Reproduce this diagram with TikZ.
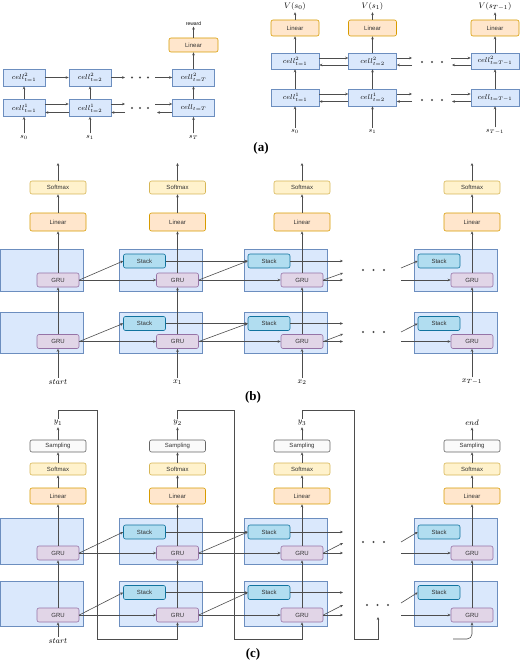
\documentclass[tikz,border=0pt]{standalone}
\usepackage{fontspec}
\setmainfont{Liberation Serif}
\newfontfamily\boxfont{Liberation Sans}
\usetikzlibrary{arrows.meta}

\begin{document}
\begin{tikzpicture}[x=1pt,y=1pt,yscale=-1,xscale=1,
  arr/.style={draw={rgb, 255:red, 77; green, 77; blue, 77 }, line width=0.6, -{Stealth[length=3pt,width=2.6pt]}},
  wire/.style={draw={rgb, 255:red, 77; green, 77; blue, 77 }, line width=0.6},
  dotfill/.style={fill={rgb, 255:red, 77; green, 77; blue, 77 }},
  cell/.style={draw={rgb, 255:red, 108; green, 142; blue, 191 }, fill={rgb, 255:red, 218; green, 232; blue, 252 }, line width=0.6, inner sep=0pt, minimum width=42, minimum height=17, font=\fontsize{7}{8}\selectfont},
  cellr/.style={cell, minimum width=48, minimum height=16, font=\fontsize{7.5}{9}\selectfont},
  hold/.style={cell, minimum width=83, minimum height=42},
  blk/.style={rounded corners=2pt, line width=0.6, inner sep=0pt, minimum width=56, text={rgb, 255:red, 51; green, 51; blue, 51 }, font=\boxfont\fontsize{6}{7}\selectfont},
  lnr/.style={blk, draw={rgb, 255:red, 215; green, 155; blue, 0 }, fill={rgb, 255:red, 255; green, 230; blue, 204 }, minimum height=18},
  smx/.style={blk, draw={rgb, 255:red, 214; green, 182; blue, 86 }, fill={rgb, 255:red, 255; green, 242; blue, 204 }, minimum height=13},
  smp/.style={blk, draw={rgb, 255:red, 102; green, 102; blue, 102 }, fill={rgb, 255:red, 250; green, 250; blue, 250 }, minimum height=12},
  stk/.style={blk, draw={rgb, 255:red, 16; green, 115; blue, 158 }, fill={rgb, 255:red, 177; green, 221; blue, 240 }, minimum width=42, minimum height=14},
  gru/.style={blk, draw={rgb, 255:red, 150; green, 115; blue, 166 }, fill={rgb, 255:red, 225; green, 213; blue, 231 }, minimum width=42, minimum height=14},
  lbl/.style={inner sep=1.5pt, font=\fontsize{8.5}{10}\selectfont},
  lbls/.style={inner sep=1.5pt, font=\fontsize{7}{8}\selectfont},
  part/.style={inner sep=0pt, font=\fontsize{13}{15}\selectfont\bfseries}
]
\useasboundingbox (0,0) rectangle (520,660);

%%%%%%%% (a) left
% Text Node
\node[cell] (la2) at (24,77.5) {$cell^2_{t=1}$};
\node[cell] (lb2) at (90,77.5) {$cell^2_{t=2}$};
\node[cell] (lc2) at (193.5,77.5) {$cell^2_{t=T}$};
\node[cell] (la1) at (24,108) {$cell^1_{t=1}$};
\node[cell] (lb1) at (90,108) {$cell^1_{t=2}$};
\node[cell] (lc1) at (193.5,108) {$cell_{t=T}$};
\node[lnr, minimum width=49, minimum height=14] (llin) at (193.5,45) {Linear};
\node[inner sep=1pt, font=\boxfont\fontsize{5}{6}\selectfont] (lrew) at (193.5,23.5) {reward};
\node[lbls] (ls0) at (24,137) {$s_0$};
\node[lbls] (ls1) at (90,137) {$s_1$};
\node[lbls] (lsT) at (193.5,137) {$s_T$};
\coordinate (le1) at (125,77.5);
\coordinate (le2) at (155,77.5);
\coordinate (lf1) at (125,104);
\coordinate (lf2) at (125,112.5);
\coordinate (lg1) at (155,104);
\coordinate (lg2) at (157,112.5);

%Straight Lines
\draw[arr] (ls0) -- (la1);
\draw[arr] (ls1) -- (lb1);
\draw[arr] (lsT) -- (lc1);
\draw[arr] (la1) -- (la2);
\draw[arr] (lb1) -- (lb2);
\draw[arr] (lc1) -- (lc2);
\draw[arr] (lc2) -- (llin);
\draw[arr] (llin) -- (lrew);
\draw[arr] (la2) -- (lb2);
\draw[arr] (lb2) -- (le1);
\draw[arr] (le2) -- (lc2);
\draw[arr] ([yshift=-4pt]la1.east) -- ([yshift=-4pt]lb1.west);
\draw[arr] ([yshift=4.5pt]lb1.west) -- ([yshift=4.5pt]la1.east);
\draw[arr] ([yshift=-4pt]lb1.east) -- (lf1);
\draw[arr] (lf2) -- ([yshift=4.5pt]lb1.east);
\draw[arr] (lg1) -- ([yshift=-4pt]lc1.west);
\draw[arr] ([yshift=4.5pt]lc1.west) -- (lg2);
\fill[dotfill] (132,77.5) circle (1.1) (140,77.5) circle (1.1) (148,77.5) circle (1.1);
\fill[dotfill] (132,108) circle (1.1) (140,108) circle (1.1) (148,108) circle (1.1);

%%%%%%%% (a) right
% Text Node
\node[cellr] (ra2) at (295,61) {$cell^2_{t=1}$};
\node[cellr] (rb2) at (372.5,61) {$cell^2_{t=2}$};
\node[cellr] (rc2) at (495,61) {$cell^2_{t=T-1}$};
\node[cellr, minimum height=17] (ra1) at (295,97.5) {$cell^1_{t=1}$};
\node[cellr, minimum height=17] (rb1) at (372.5,97.5) {$cell^1_{t=2}$};
\node[cellr, minimum height=17] (rc1) at (495,97.5) {$cell_{t=T-1}$};
\node[lnr, minimum width=48, minimum height=16] (rla) at (295,28) {Linear};
\node[lnr, minimum width=48, minimum height=16] (rlb) at (372.5,28) {Linear};
\node[lnr, minimum width=48, minimum height=16] (rlc) at (495,28) {Linear};
\node[lbl] (rva) at (295,6.5) {$V(s_0)$};
\node[lbl] (rvb) at (372.5,6.5) {$V(s_1)$};
\node[lbl] (rvc) at (495,6.5) {$V(s_{T-1})$};
\node[lbls] (rsa) at (295,131.5) {$s_0$};
\node[lbls] (rsb) at (372.5,131.5) {$s_1$};
\node[lbls] (rsc) at (495,131.5) {$s_{T-1}$};
\coordinate (re1) at (412,58);
\coordinate (re2) at (412,65);
\coordinate (re3) at (451,58);
\coordinate (re4) at (452,65);
\coordinate (rf1) at (412,94);
\coordinate (rf2) at (412,101.5);
\coordinate (rf3) at (451,94);
\coordinate (rf4) at (452,101.5);

%Straight Lines
\draw[arr] (rsa) -- (ra1);
\draw[arr] (rsb) -- (rb1);
\draw[arr] (rsc) -- (rc1);
\draw[arr] (ra1) -- (ra2);
\draw[arr] (rb1) -- (rb2);
\draw[arr] (rc1) -- (rc2);
\draw[arr] (ra2) -- (rla);
\draw[arr] (rb2) -- (rlb);
\draw[arr] (rc2) -- (rlc);
\draw[arr] (rla) -- (rva);
\draw[arr] (rlb) -- (rvb);
\draw[arr] (rlc) -- (rvc);
\draw[arr] ([yshift=-3pt]ra2.east) -- ([yshift=-3pt]rb2.west);
\draw[arr] ([yshift=4pt]rb2.west) -- ([yshift=4pt]ra2.east);
\draw[arr] ([yshift=-3pt]rb2.east) -- (re1);
\draw[arr] (re2) -- ([yshift=4pt]rb2.east);
\draw[arr] (re3) -- ([yshift=-3pt]rc2.west);
\draw[arr] ([yshift=4pt]rc2.west) -- (re4);
\draw[arr] ([yshift=-3.5pt]ra1.east) -- ([yshift=-3.5pt]rb1.west);
\draw[arr] ([yshift=4pt]rb1.west) -- ([yshift=4pt]ra1.east);
\draw[arr] ([yshift=-3.5pt]rb1.east) -- (rf1);
\draw[arr] (rf2) -- ([yshift=4pt]rb1.east);
\draw[arr] (rf3) -- ([yshift=-3.5pt]rc1.west);
\draw[arr] ([yshift=4pt]rc1.west) -- (rf4);
\fill[dotfill] (422,62) circle (1.1) (432,62) circle (1.1) (442,62) circle (1.1);
\fill[dotfill] (422,100) circle (1.1) (432,100) circle (1.1) (442,100) circle (1.1);

% Text Node
\node[part] (pa) at (261,148) {(a)};

%%%%%%%% (b)
%Shape: Rectangle
\node[hold] (bca2) at (41.5,270) {};
\node[hold] (bcb2) at (161,270) {};
\node[hold] (bcc2) at (285.5,270) {};
\node[hold] (bcd2) at (455.5,270) {};
\node[hold, minimum height=41] (bca1) at (41.5,332.5) {};
\node[hold, minimum height=41] (bcb1) at (161,332.5) {};
\node[hold, minimum height=41] (bcc1) at (285.5,332.5) {};
\node[hold, minimum height=41] (bcd1) at (455.5,332.5) {};
% Text Node
\node[gru] (bga2) at (58,280) {GRU};
\node[gru] (bgb2) at (177.5,280) {GRU};
\node[gru] (bgc2) at (302,280) {GRU};
\node[gru] (bgd2) at (472,280) {GRU};
\node[gru] (bga1) at (58,341.5) {GRU};
\node[gru] (bgb1) at (177.5,341.5) {GRU};
\node[gru] (bgc1) at (302,341.5) {GRU};
\node[gru] (bgd1) at (472,341.5) {GRU};
\node[stk] (bsb2) at (144.5,261) {Stack};
\node[stk] (bsc2) at (269,261) {Stack};
\node[stk] (bsd2) at (439,261) {Stack};
\node[stk] (bsb1) at (144.5,323.5) {Stack};
\node[stk] (bsc1) at (269,323.5) {Stack};
\node[stk] (bsd1) at (439,323.5) {Stack};
\node[lnr] (bla) at (58,222) {Linear};
\node[lnr] (blb) at (177.5,222) {Linear};
\node[lnr] (blc) at (302,222) {Linear};
\node[lnr] (bld) at (472,222) {Linear};
\node[smx] (bxa) at (58,187.5) {Softmax};
\node[smx] (bxb) at (177.5,187.5) {Softmax};
\node[smx] (bxc) at (302,187.5) {Softmax};
\node[smx] (bxd) at (472,187.5) {Softmax};
\node[lbl] (bia) at (58,382) {$start$};
\node[lbl] (bib) at (177.5,382) {$x_1$};
\node[lbl] (bic) at (302,382) {$x_2$};
\node[lbl] (bid) at (472,382) {$x_{T-1}$};
\coordinate (bta) at (58,163);
\coordinate (btb) at (177.5,163);
\coordinate (btc) at (302,163);
\coordinate (btd) at (472,163);
\coordinate (bo1) at (343,261);
\coordinate (bo2) at (343,273);
\coordinate (bo3) at (343,280);
\coordinate (bp1) at (401,268);
\coordinate (bp2) at (401,280);
\coordinate (bq1) at (343,323.5);
\coordinate (bq2) at (343,334);
\coordinate (bq3) at (343,341.5);
\coordinate (br1) at (401,332);
\coordinate (br2) at (401,341.5);

%Straight Lines
\draw[arr] (bia) -- (bga1);
\draw[arr] (bib) -- (bgb1);
\draw[arr] (bic) -- (bgc1);
\draw[arr] (bid) -- (bgd1);
\draw[arr] (bga1) -- (bga2);
\draw[arr] (bgb1) -- (bgb2);
\draw[arr] (bgc1) -- (bgc2);
\draw[arr] (bgd1) -- (bgd2);
\draw[arr] (bga2) -- (bla);
\draw[arr] (bgb2) -- (blb);
\draw[arr] (bgc2) -- (blc);
\draw[arr] (bgd2) -- (bld);
\draw[arr] (bla) -- (bxa);
\draw[arr] (blb) -- (bxb);
\draw[arr] (blc) -- (bxc);
\draw[arr] (bld) -- (bxd);
\draw[arr] (bxa) -- (bta);
\draw[arr] (bxb) -- (btb);
\draw[arr] (bxc) -- (btc);
\draw[arr] (bxd) -- (btd);
\draw[arr] (bga2.east) -- (bsb2.west);
\draw[arr] (bga2.east) -- (bgb2.west);
\draw[arr] (bsb2.east) -- (bsc2.west);
\draw[arr] (bgb2.east) -- (bsc2.west);
\draw[arr] (bgb2.east) -- (bgc2.west);
\draw[arr] (bsc2.east) -- (bo1);
\draw[arr] (bgc2.east) -- (bo2);
\draw[arr] (bgc2.east) -- (bo3);
\draw[arr] (bp1) -- (bsd2.west);
\draw[arr] (bp2) -- (bgd2.west);
\draw[arr] (bga1.east) -- (bsb1.west);
\draw[arr] (bga1.east) -- (bgb1.west);
\draw[arr] (bsb1.east) -- (bsc1.west);
\draw[arr] (bgb1.east) -- (bsc1.west);
\draw[arr] (bgb1.east) -- (bgc1.west);
\draw[arr] (bsc1.east) -- (bq1);
\draw[arr] (bgc1.east) -- (bq2);
\draw[arr] (bgc1.east) -- (bq3);
\draw[arr] (br1) -- (bsd1.west);
\draw[arr] (br2) -- (bgd1.west);
\fill[dotfill] (363,270) circle (1.1) (373.5,270) circle (1.1) (384,270) circle (1.1);
\fill[dotfill] (363,332) circle (1.1) (373.5,332) circle (1.1) (384,332) circle (1.1);

% Text Node
\node[part] (pb) at (253,397) {(b)};

%%%%%%%% (c)
%Shape: Rectangle
\node[hold, minimum height=46] (cca2) at (41.5,541) {};
\node[hold, minimum height=46] (ccb2) at (161,541) {};
\node[hold, minimum height=46] (ccc2) at (285.5,541) {};
\node[hold, minimum height=46] (ccd2) at (455.5,541) {};
\node[hold, minimum height=45] (cca1) at (41.5,603.5) {};
\node[hold, minimum height=45] (ccb1) at (161,603.5) {};
\node[hold, minimum height=45] (ccc1) at (285.5,603.5) {};
\node[hold, minimum height=45] (ccd1) at (455.5,603.5) {};
% Text Node
\node[gru] (cga2) at (58,553) {GRU};
\node[gru] (cgb2) at (177.5,553) {GRU};
\node[gru] (cgc2) at (302,553) {GRU};
\node[gru] (cgd2) at (472,553) {GRU};
\node[gru] (cga1) at (58,615) {GRU};
\node[gru] (cgb1) at (177.5,615) {GRU};
\node[gru] (cgc1) at (302,615) {GRU};
\node[gru] (cgd1) at (472,615) {GRU};
\node[stk] (csb2) at (144.5,532) {Stack};
\node[stk] (csc2) at (269,532) {Stack};
\node[stk] (csd2) at (439,532) {Stack};
\node[stk] (csb1) at (144.5,592.5) {Stack};
\node[stk] (csc1) at (269,592.5) {Stack};
\node[stk] (csd1) at (439,592.5) {Stack};
\node[lnr, minimum height=16] (cla) at (58,496) {Linear};
\node[lnr, minimum height=16] (clb) at (177.5,496) {Linear};
\node[lnr, minimum height=16] (clc) at (302,496) {Linear};
\node[lnr, minimum height=16] (cld) at (472,496) {Linear};
\node[smx, minimum height=12] (cxa) at (58,469) {Softmax};
\node[smx, minimum height=12] (cxb) at (177.5,469) {Softmax};
\node[smx, minimum height=12] (cxc) at (302,469) {Softmax};
\node[smx, minimum height=12] (cxd) at (472,469) {Softmax};
\node[smp] (cpa) at (58,446) {Sampling};
\node[smp] (cpb) at (177.5,446) {Sampling};
\node[smp] (cpc) at (302,446) {Sampling};
\node[smp] (cpd) at (472,446) {Sampling};
\node[lbl] (cya) at (58,423) {$y_1$};
\node[lbl] (cyb) at (177.5,423) {$y_2$};
\node[lbl] (cyc) at (302,423) {$y_3$};
\node[lbl] (cyd) at (472,423) {$end$};
\node[lbl] (cia) at (58,641) {$start$};
\coordinate (co1) at (343,532);
\coordinate (co2) at (343,543);
\coordinate (co3) at (343,553);
\coordinate (cp1) at (401,542);
\coordinate (cp2) at (401,553);
\coordinate (cq1) at (343,592.5);
\coordinate (cq2) at (343,605);
\coordinate (cq3) at (343,615);
\coordinate (cr1) at (401,603);
\coordinate (cr2) at (401,615);
\coordinate (cfa1) at (58,410);
\coordinate (cfa2) at (97,410);
\coordinate (cfa3) at (97,639);
\coordinate (cfa4) at (177.5,639);
\coordinate (cfb1) at (177.5,410);
\coordinate (cfb2) at (234,410);
\coordinate (cfb3) at (234,639);
\coordinate (cfb4) at (302,639);
\coordinate (cfc1) at (302,410);
\coordinate (cfc2) at (354,410);
\coordinate (cfc3) at (354,639);
\coordinate (cfc4) at (378,639);
\coordinate (cfc5) at (378,617);
\coordinate (cfd1) at (453,639);
\coordinate (cfd2) at (472,639);

%Straight Lines
\draw[arr] (cia) -- (cga1);
\draw[arr] (cga1) -- (cga2);
\draw[arr] (cgb1) -- (cgb2);
\draw[arr] (cgc1) -- (cgc2);
\draw[arr] (cgd1) -- (cgd2);
\draw[arr] (cga2) -- (cla);
\draw[arr] (cgb2) -- (clb);
\draw[arr] (cgc2) -- (clc);
\draw[arr] (cgd2) -- (cld);
\draw[arr] (cla) -- (cxa);
\draw[arr] (clb) -- (cxb);
\draw[arr] (clc) -- (cxc);
\draw[arr] (cld) -- (cxd);
\draw[arr] (cxa) -- (cpa);
\draw[arr] (cxb) -- (cpb);
\draw[arr] (cxc) -- (cpc);
\draw[arr] (cxd) -- (cpd);
\draw[arr] (cpa) -- (cya);
\draw[arr] (cpb) -- (cyb);
\draw[arr] (cpc) -- (cyc);
\draw[arr] (cpd) -- (cyd);
\draw[arr] (cga2.east) -- (csb2.west);
\draw[arr] (cga2.east) -- (cgb2.west);
\draw[arr] (csb2.east) -- (csc2.west);
\draw[arr] (cgb2.east) -- (csc2.west);
\draw[arr] (cgb2.east) -- (cgc2.west);
\draw[arr] (csc2.east) -- (co1);
\draw[arr] (cgc2.east) -- (co2);
\draw[arr] (cgc2.east) -- (co3);
\draw[arr] (cp1) -- (csd2.west);
\draw[arr] (cp2) -- (cgd2.west);
\draw[arr] (cga1.east) -- (csb1.west);
\draw[arr] (cga1.east) -- (cgb1.west);
\draw[arr] (csb1.east) -- (csc1.west);
\draw[arr] (cgb1.east) -- (csc1.west);
\draw[arr] (cgb1.east) -- (cgc1.west);
\draw[arr] (csc1.east) -- (cq1);
\draw[arr] (cgc1.east) -- (cq2);
\draw[arr] (cgc1.east) -- (cq3);
\draw[arr] (cr1) -- (csd1.west);
\draw[arr] (cr2) -- (cgd1.west);
% feedback
\draw[arr] (cya) -- (cfa1) -- (cfa2) -- (cfa3) -- (cfa4) -- (cgb1);
\draw[arr] (cyb) -- (cfb1) -- (cfb2) -- (cfb3) -- (cfb4) -- (cgc1);
\draw[arr] (cyc) -- (cfc1) -- (cfc2) -- (cfc3) -- (cfc4) -- (cfc5);
\draw[arr, rounded corners=5pt] (cfd1) -- (cfd2) -- (cgd1);
\fill[dotfill] (363,542) circle (1.1) (373.5,542) circle (1.1) (384,542) circle (1.1);
\fill[dotfill] (367,605) circle (1.1) (377.5,605) circle (1.1) (388,605) circle (1.1);

% Text Node
\node[part] (pc) at (253,654) {(c)};

\end{tikzpicture}
\end{document}
